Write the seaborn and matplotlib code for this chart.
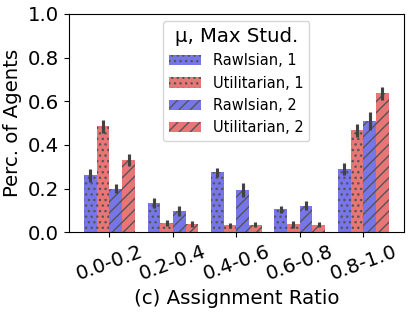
import pandas as pd
import numpy as np
import matplotlib
matplotlib.use("Agg")
import matplotlib.pyplot as plt
import matplotlib.patches as mpatches
import seaborn as sns

# values
ratios = ['0.0-0.2', '0.2-0.4', '0.4-0.6', '0.6-0.8', '0.8-1.0']
series = ['Rawlsian, 1', 'Utilitarian, 1', 'Rawlsian, 2', 'Utilitarian, 2']

rawls_1 = [0.26, 0.134, 0.275, 0.104, 0.289]
util_1 = [0.486, 0.040, 0.032, 0.036, 0.468]
rawls_2 = [0.200, 0.096, 0.193, 0.122, 0.509]
util_2 = [0.330, 0.037, 0.035, 0.035, 0.636]

rawls_1_err = [0.030, 0.023, 0.020, 0.015, 0.027]
util_1_err = [0.030, 0.014, 0.011, 0.015, 0.030]
rawls_2_err = [0.020, 0.023, 0.030, 0.019, 0.042]
util_2_err = [0.029, 0.012, 0.012, 0.013, 0.029]

means = [rawls_1, util_1, rawls_2, util_2]
errs = [rawls_1_err, util_1_err, rawls_2_err, util_2_err]

rows = []
for s, vals, ers in zip(series, means, errs):
    for r, v, e in zip(ratios, vals, ers):
        rows.append({'ratio': r, 'series': s, 'value': v, 'err': e})
df = pd.DataFrame(rows)

blue = '#7676e8'
red = '#e97676'
palette = {'Rawlsian, 1': blue, 'Utilitarian, 1': red,
           'Rawlsian, 2': blue, 'Utilitarian, 2': red}
hatches = ['...', '...', '///', '///']

plt.rcParams['hatch.color'] = '#555555'
plt.rcParams['hatch.linewidth'] = 1.0

fig, ax = plt.subplots(figsize=(4.15, 3.18), dpi=100)
sns.barplot(data=df, x='ratio', y='value', hue='series', hue_order=series,
            order=ratios, palette=palette, errorbar=None, legend=False,
            linewidth=0, saturation=1, ax=ax)

# hatches + error bars per series
for cont, h, s in zip(ax.containers, hatches, series):
    sub = df[df['series'] == s].set_index('ratio').loc[ratios]
    xs = []
    for bar in cont:
        bar.set_hatch(h)
        xs.append(bar.get_x() + bar.get_width() / 2)
    ax.errorbar(xs, sub['value'], yerr=sub['err'], fmt='none',
                ecolor='.26', elinewidth=2.25, capsize=0)

handles = [mpatches.Patch(facecolor=palette[s], hatch=h, linewidth=0, label=s)
           for s, h in zip(series, hatches)]
leg = ax.legend(handles=handles, title='μ, Max Stud.', loc='upper center',
                fontsize=10.5, title_fontsize=14.2, handlelength=2.2)

ax.set_ylim(0, 1.0)
ax.set_yticks([0.0, 0.2, 0.4, 0.6, 0.8, 1.0])
ax.tick_params(axis='both', labelsize=14.2)
plt.setp(ax.get_xticklabels(), rotation=20)
ax.set_xlabel('(c) Assignment Ratio', fontsize=14.2)
ax.set_ylabel('Perc. of Agents', fontsize=14.2)

fig.subplots_adjust(left=0.166, right=0.973, top=0.956, bottom=0.27)
fig.savefig('out.png', dpi=100)
